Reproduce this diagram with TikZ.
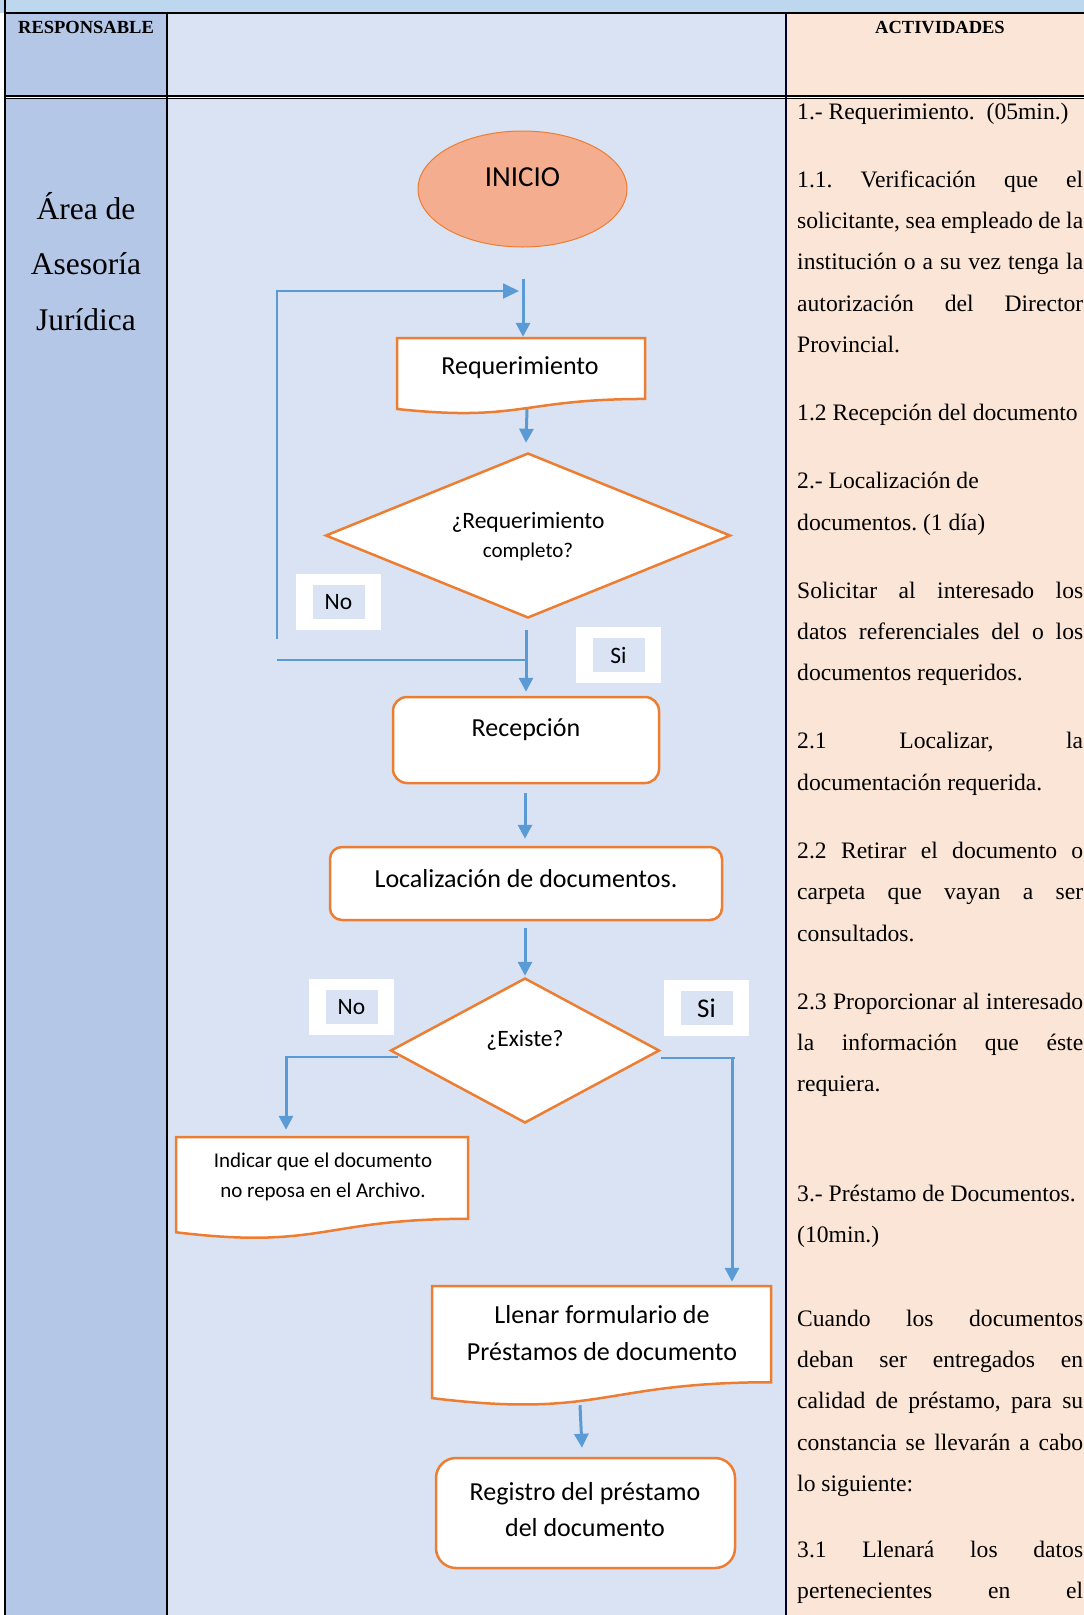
\documentclass[tikz,border=0pt]{standalone}
\usepackage{fontspec}
\setmainfont{Liberation Serif}
\newfontfamily\calib{Carlito}
\usetikzlibrary{shapes.geometric,arrows.meta,calc}
\frenchspacing
\definecolor{topband}{HTML}{BDD7EE}
\definecolor{leftcol}{HTML}{B4C7E7}
\definecolor{midcol}{HTML}{DAE3F3}
\definecolor{rightcol}{HTML}{FBE5D6}
\definecolor{orng}{HTML}{ED7D31}
\definecolor{fblue}{HTML}{5B9BD5}
\definecolor{inifill}{HTML}{F5AD8F}
\newcommand{\fsz}[1]{\fontsize{#1}{#1}\selectfont}
\newcommand{\docshape}[5]{%
  \path[draw=orng, line width=2.5pt, fill=white, line join=miter] (#2,#4) -- (#3,#4) -- (#3,{#4+0.802*#5})
    .. controls ({(#2+#3)/2},{#4+0.802*#5}) and ({(#2+#3)/2},{#4+1.1075*#5}) .. (#2,{#4+0.934*#5}) -- cycle;
  \node[inner sep=0, minimum width={#3-#2}, minimum height=#5] (#1) at ({(#2+#3)/2},{#4+#5/2}) {};
}
\newcommand{\actj}[2]{\node[rtext] at (797,#1) {\frenchspacing\makebox[286pt][s]{#2}};}
\newcommand{\actl}[2]{\node[rtext] at (797,#1) {#2};}
\begin{document}
\begin{tikzpicture}[x=1pt,y=-1pt,
  rtext/.style={anchor=base west, inner sep=0, font=\fsz{23.6}\frenchspacing},
  ltext/.style={anchor=base, inner sep=0, font=\fsz{31.5}},
  htext/.style={anchor=base, inner sep=0, font=\bfseries\fsz{18.5}},
  ftext/.style={inner sep=0, font=\calib\fsz{26}},
  inicio/.style={ellipse, draw=orng, line width=1pt, fill=inifill, minimum width=209, minimum height=116, inner sep=0},
  diam/.style={diamond, draw=orng, line width=2.5pt, fill=white, inner sep=0},
  rbox/.style={rectangle, draw=orng, line width=2.5pt, fill=white, inner sep=0},
  lblout/.style={rectangle, fill=white, minimum width=85, minimum height=56, inner sep=0},
  lblin/.style={rectangle, fill=midcol, minimum width=52, minimum height=34, inner sep=0, font=\calib\fsz{23.5}},
  arr/.style={draw=fblue, line width=3pt, -{Triangle[length=14pt,width=14pt]}},
  thinline/.style={draw=fblue, line width=1.8pt},
  thinarr/.style={draw=fblue, line width=1.8pt, -{Triangle[length=16pt,width=15pt]}}
]
\useasboundingbox (0,0) rectangle (1084,1615);
% table background
\fill[topband] (0,0) rectangle (1084,13);
\fill[leftcol] (5,13) rectangle (167,96);
\fill[midcol] (167,13) rectangle (786,96);
\fill[rightcol] (786,13) rectangle (1084,96);
\fill[leftcol] (5,98.5) rectangle (167,1615);
\fill[midcol] (167,98.5) rectangle (786,1615);
\fill[rightcol] (786,98.5) rectangle (1084,1615);
% table lines
\draw[line width=2pt] (4,13) -- (1084,13);
\draw[line width=2pt] (5,0) -- (5,1615);
\draw[line width=2pt] (5,95.8) -- (1084,95.8);
\draw[line width=1pt] (5,98.5) -- (1084,98.5);
\draw[line width=2.5pt] (167,13) -- (167,1615);
\draw[line width=1.3pt, color=black!85!blue] (786,13) -- (786,1615);
% headers
\node[htext] (hresp) at (86,33) {RESPONSABLE};
\node[htext] (hact) at (940,33) {ACTIVIDADES};
% left column
\node[ltext] (area1) at (86,219) {Área de};
\node[ltext] (area2) at (86,274.5) {Asesoría};
\node[ltext] (area3) at (86,330) {Jurídica};
% activities
\actl{119}{1.- Requerimiento.\ \ (05min.)}
\actj{187}{1.1. Verificación que el}
\actj{228.4}{solicitante, sea empleado de la}
\actj{269.8}{institución o a su vez tenga la}
\actj{311.2}{autorización del Director}
\actl{352.6}{Provincial.}
\actl{420.6}{1.2 Recepción del documento}
\actl{488.6}{2.- Localización de}
\actl{530}{documentos. (1 día)}
\actj{598}{Solicitar al interesado los}
\actj{639.4}{datos referenciales del o los}
\actl{680.8}{documentos requeridos.}
\actj{748.8}{2.1 Localizar, la}
\actl{790.2}{documentación requerida.}
\actj{858.2}{2.2 Retirar el documento o}
\actj{899.6}{carpeta que vayan a ser}
\actl{941}{consultados.}
\actj{1009}{2.3 Proporcionar al interesado}
\actj{1050.4}{la información que éste}
\actl{1091.8}{requiera.}
\actl{1201.2}{3.- Préstamo de Documentos.}
\actl{1242.6}{(10min.)}
\actj{1326}{Cuando los documentos}
\actj{1367.4}{deban ser entregados en}
\actj{1408.8}{calidad de préstamo, para su}
\actj{1450.2}{constancia se llevarán a cabo}
\actl{1491.6}{lo siguiente:}
\actj{1557}{3.1 Llenará los datos}
\actj{1598.4}{pertenecientes en el}
% flowchart nodes
\node[inicio] (ini) at (522.5,189) {};
\node[ftext, font=\calib\fsz{29}] (initxt) at (522.5,177) {INICIO};
\docshape{req}{397}{645}{338}{76}
\node[ftext] (reqtxt) at (520,368) {Requerimiento};
\node[diam, minimum width=405, minimum height=165] (d1) at (528,535.5) {};
\node[ftext, font=\calib\fsz{23.5}] (d1a) at (528,522) {¿Requerimiento};
\node[ftext, font=\calib\fsz{21}] (d1b) at (528,552) {completo?};
\node[rbox, rounded corners=14pt, minimum width=266, minimum height=86] (rec) at (526,740) {};
\node[ftext] (rectxt) at (526,730) {Recepción};
\node[rbox, rounded corners=12pt, minimum width=392, minimum height=73] (loc) at (526,883.5) {};
\node[ftext] (loctxt) at (526,879) {Localización de documentos.};
\node[diam, minimum width=269, minimum height=145] (d2) at (525,1050.5) {};
\node[ftext, font=\calib\fsz{23.5}] (d2txt) at (525,1040) {¿Existe?};
\docshape{ind}{176}{468}{1137}{102}
\node[ftext, align=center, font=\calib\fontsize{21}{30}\selectfont] (indtxt) at (323,1177) {Indicar que el documento\\no reposa en el Archivo.};
\docshape{lle}{432}{771}{1286}{120}
\node[ftext, align=center, font=\calib\fontsize{26}{37}\selectfont] (lletxt) at (602,1333) {Llenar formulario de\\Préstamos de documento};
\node[rbox, rounded corners=20pt, minimum width=299, minimum height=110] (reg) at (585.5,1513) {};
\node[ftext, align=center, font=\calib\fontsize{26}{36}\selectfont] (regtxt) at (585,1510) {Registro del préstamo\\del documento};
% labels
\node[lblout] (lno1) at (338.5,602) {};
\node[lblin] (lno1t) at (lno1) {No};
\node[lblout] (lsi1) at (618.5,655) {};
\node[lblin] (lsi1t) at (lsi1) {Si};
\node[lblout] (lno2) at (351.5,1007) {};
\node[lblin] (lno2t) at (lno2) {No};
\node[lblout] (lsi2) at (706.5,1008) {};
\node[lblin, font=\calib\fsz{27}] (lsi2t) at (lsi2) {Si};
% connectors
\coordinate (top1) at (523,279);
\draw[arr] (top1) -- ($(top1 |- req.north)+(0,-1)$);
\coordinate (lp1) at (277,639);
\coordinate (lp2) at (277,291);
\draw[thinarr] (lp1) -- (lp2) -- ($(lp2 -| top1)+(-4,0)$);
\draw[arr] ($(req.south)+(6,-5)$) -- ($(d1.north)+(-2,-9)$);
\draw[arr] ($(d1.south)+(-2,11)$) -- ($(rec.north)+(0,-4)$);
\coordinate (lp0) at (277,660);
\draw[thinline] (lp0) -- (lp0 -| rec.north);
\draw[arr] ($(rec.south)+(-1,9)$) -- ($(loc.north)+(-1,-7)$);
\draw[arr] ($(loc.south)+(-1,7)$) -- ($(d2.north)+(0,-1)$);
\coordinate (nob) at (286,1057);
\draw[thinline] ($(d2.west)+(9,6.5)$) -- ($(nob)+(-1,0)$);
\draw[arr] (nob) -- ($(nob |- ind.north)+(0,-7)$);
\coordinate (sib) at (732,1058);
\draw[thinline] ($(d2.east)+(0,7.5)$) -- ($(sib)+(3,0)$);
\draw[arr] (sib) -- ($(sib |- lle.north)+(0,-4)$);
\draw[arr] ($(lle.south)+(-21.5,-1)$) -- ($(reg.north)+(-3.5,-9)$);
\end{tikzpicture}
\end{document}
